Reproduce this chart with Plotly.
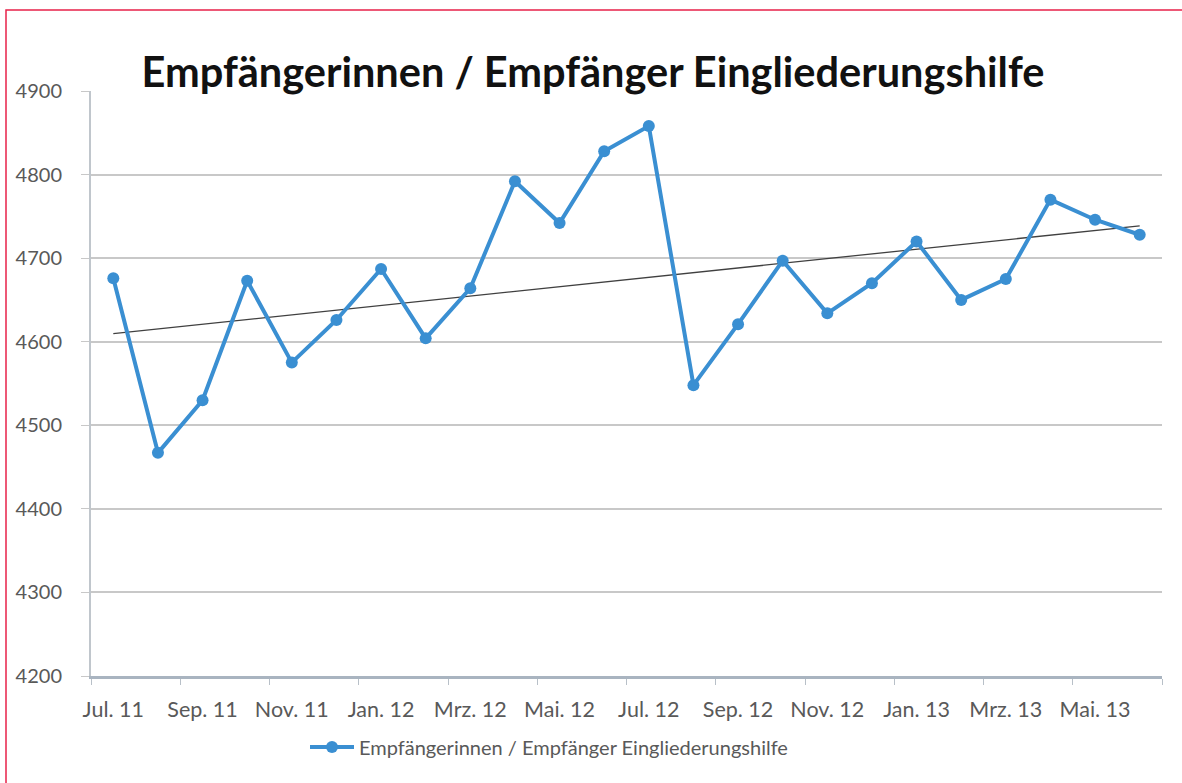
import numpy as np
import plotly.graph_objects as go

months = ["Jul. 11", "Aug. 11", "Sep. 11", "Okt. 11", "Nov. 11", "Dez. 11",
          "Jan. 12", "Feb. 12", "Mrz. 12", "Apr. 12", "Mai. 12", "Jun. 12",
          "Jul. 12", "Aug. 12", "Sep. 12", "Okt. 12", "Nov. 12", "Dez. 12",
          "Jan. 13", "Feb. 13", "Mrz. 13", "Apr. 13", "Mai. 13", "Jun. 13"]
values = [4676, 4467, 4530, 4673, 4575, 4626, 4687, 4604, 4664, 4792, 4742, 4828,
          4858, 4548, 4621, 4697, 4634, 4670, 4720, 4650, 4675, 4770, 4746, 4728]
series_name = "Empfängerinnen / Empfänger Eingliederungshilfe"
title_text = "Empfängerinnen / Empfänger Eingliederungshilfe"
y_ticks = [4200, 4300, 4400, 4500, 4600, 4700, 4800, 4900]

idx = np.arange(len(months))
slope, intercept = np.polyfit(idx, values, 1)
trend = slope * idx + intercept

FONT = "Lato"
GRAY = "#595959"

fig = go.Figure()
fig.add_trace(go.Scatter(
    x=idx, y=trend, mode="lines", showlegend=False, hoverinfo="skip",
    line=dict(color="#404040", width=1.3)))
fig.add_trace(go.Scatter(
    x=idx, y=values, mode="lines+markers", name=series_name,
    line=dict(color="#3a8fd2", width=4),
    marker=dict(color="#3a8fd2", size=12)))

W, H = 1182, 783
L, R, T, B = 91, 20, 91, 107
pw, ph = W - L - R, H - T - B

fig.update_layout(
    width=W, height=H,
    margin=dict(l=L, r=R, t=T, b=B),
    paper_bgcolor="white", plot_bgcolor="white",
    font=dict(family=FONT, color=GRAY),
    title=dict(text="<b>" + title_text + "</b>", x=593 / W, xref="container",
               xanchor="center", y=1 - 72 / H, yref="container", yanchor="middle",
               font=dict(family=FONT, size=41.5, color="#111111")),
    showlegend=True,
    legend=dict(orientation="h", x=(305 - L) / pw, xanchor="left",
                y=-(747 - (T + ph)) / ph, yanchor="middle", itemwidth=44,
                font=dict(family=FONT, size=20, color=GRAY),
                bgcolor="rgba(0,0,0,0)"),
    xaxis=dict(range=[-0.5, len(months) - 0.5], tickmode="array",
               tickvals=list(idx[::2]), ticktext=months[::2],
               ticks="", showgrid=False, zeroline=False,
               showline=True, linecolor="#a9b4c0", linewidth=2.5,
               tickfont=dict(family=FONT, size=21.5, color=GRAY),
               ticklabelstandoff=12,
               minor=dict(tickmode="array",
                          tickvals=[i - 0.5 for i in idx[::2]] + [len(months) - 0.5],
                          ticks="outside", ticklen=6, tickcolor="#b8c0c8", tickwidth=1,
                          showgrid=False)),
    yaxis=dict(range=[4200, 4900], tickmode="array", tickvals=y_ticks,
               ticks="outside", ticklen=8, tickcolor="#c8c8c8",
               showgrid=True, gridcolor="#c8c8c8", gridwidth=1.5,
               zeroline=False, showline=True, linecolor="#c0c6cc", linewidth=2,
               tickfont=dict(family=FONT, size=20, color=GRAY),
               ticklabelstandoff=15),
    shapes=[dict(type="rect", xref="paper", yref="paper",
                 x0=(6 - L) / pw, x1=1.2, y0=-0.5, y1=(T + ph - 10) / ph,
                 line=dict(color="#e8224a", width=1.5), fillcolor="rgba(0,0,0,0)",
                 layer="below")],
)

fig.write_html("out.html", config={"displayModeBar": False},
               post_script="document.body.style.margin='0';document.body.style.overflow='hidden';")
